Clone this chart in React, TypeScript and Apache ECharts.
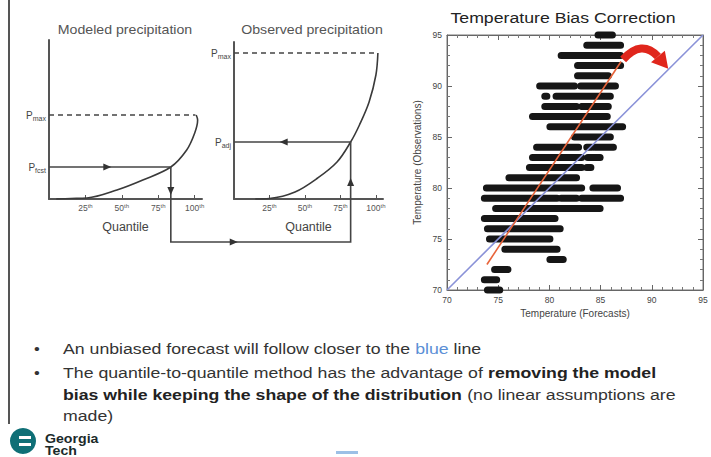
import React, { useEffect, useRef } from "react";
import * as echarts from "echarts";

// ---- Schematic quantile curves (quantile %, precipitation units) ----
const modeledQ = [5, 15, 26, 46.6, 64.4, 83.6, 94.5, 100, 102, 101];
const modeledP = [0, 0.5, 1, 9, 19, 32, 49, 66, 79, 84];
const observedQ = [15, 25, 43, 59, 72.6, 82.2, 88.4, 95.2, 100, 101.4];
const observedP = [0, 0.5, 7, 21, 37, 57, 74, 97, 124, 146];
const modeledMax = 84;
const observedMax = 146;
const fcstQ = 83.6;
const fcstP = 32;
const adjQ = 82.2;
const adjP = 57;
const quantileTicks = [25, 50, 75, 100];

// ---- Scatter streaks: observed temperature row, forecast range ----
const rowObs = [95, 94, 93, 92, 91, 90, 90, 89, 89, 88, 88, 87, 86, 85, 84, 84, 84, 83, 83, 82, 82, 81, 80, 80, 79, 79, 79, 78, 77, 76, 75, 74, 73, 72, 71, 70];
const rowFrom = [84.7, 83.6, 81.1, 82.7, 82.7, 79.0, 83.0, 79.5, 80.6, 79.5, 83.1, 78.3, 80.0, 82.4, 78.7, 83.6, 84.4, 78.3, 83.7, 78.0, 83.6, 76.0, 73.8, 84.2, 73.6, 81.1, 83.1, 74.7, 73.6, 73.9, 74.1, 75.6, 80.0, 74.6, 73.6, 73.9];
const rowTo = [86.2, 87.0, 87.0, 87.0, 85.8, 82.5, 86.5, 79.8, 86.0, 82.7, 85.8, 85.7, 87.2, 86.0, 82.9, 84.2, 86.3, 83.2, 85.0, 83.2, 84.1, 82.7, 83.2, 86.7, 80.8, 82.7, 87.0, 85.0, 80.6, 81.1, 80.1, 80.8, 81.4, 76.0, 74.9, 75.2];

const oneToOne = [[70, 70], [95, 95]];
const fitLine = [[73.9, 72.5], [87.0, 92.4]];
const biasArrow = [[87.2, 92.6], [89.0, 94.6], [90.6, 92.9], [91.6, 91.7]];

const FONT = "'Liberation Sans', Arial, sans-serif";
const INK = "#3a3a3a";
const STRETCH = 1.18;

export default function App() {
  const ref = useRef<HTMLDivElement>(null);
  useEffect(() => {
    const chart = echarts.init(ref.current!, null, { renderer: "svg" });

    const pLabel = (name: string) => `{p|P}{s|${name}}`;
    const pRich = {
      p: { fontSize: 10, color: "#444", lineHeight: 14, fontFamily: FONT },
      s: { fontSize: 7, color: "#444", verticalAlign: "bottom", fontFamily: FONT },
    };
    const diagXAxis = (gridIndex: number) => ({
      type: "value",
      gridIndex,
      min: 0,
      max: 105,
      interval: 25,
      name: "Quantile",
      nameLocation: "middle",
      nameGap: 21,
      nameTextStyle: { fontSize: 12.5, color: "#444", fontFamily: FONT },
      axisLine: { show: true, lineStyle: { color: "#555", width: 2 } },
      axisTick: { show: true, inside: true, length: 4, customValues: quantileTicks, lineStyle: { color: "#555" } },
      axisLabel: {
        show: true,
        customValues: quantileTicks,
        margin: 4,
        formatter: (v: number) => (quantileTicks.indexOf(v) >= 0 ? `{n|${v}}{t|th}` : ""),
        rich: {
          n: { fontSize: 8.5, color: "#555", fontFamily: FONT, lineHeight: 10 },
          t: { fontSize: 6, color: "#555", verticalAlign: "top", fontFamily: FONT },
        },
      },
      splitLine: { show: false },
    });
    const diagYAxis = (gridIndex: number, max: number) => ({
      type: "value",
      gridIndex,
      min: 0,
      max,
      axisLine: { show: true, lineStyle: { color: "#555", width: 2 } },
      axisTick: { show: false },
      axisLabel: { show: false },
      splitLine: { show: false },
    });
    const tempAxis = (pos: string, gridIndex: number, labels: boolean, name: string) => ({
      type: "value",
      gridIndex,
      position: pos,
      min: 70,
      max: 95,
      interval: 5,
      name: labels ? name : "",
      nameLocation: "middle",
      nameGap: pos === "left" ? 25 : 15,
      nameTextStyle: { fontSize: 10, color: "#444", fontFamily: FONT },
      axisLine: { show: true, onZero: false, lineStyle: { color: "#666", width: 1 } },
      axisTick: { show: true, inside: true, length: 5, lineStyle: { color: "#666" } },
      minorTick: { show: true, splitNumber: 5, length: 3, lineStyle: { color: "#777" } },
      axisLabel: { show: labels, fontSize: 8.5, color: "#444", margin: 5, fontFamily: FONT },
      splitLine: { show: false },
    });

    const segments = rowObs.map((y, i) => [rowFrom[i], rowTo[i], y]);

    const option: any = {
      animation: false,
      backgroundColor: "#fff",
      textStyle: { fontFamily: FONT },
      grid: [
        { left: 49, top: 40, width: 153, height: 159 },
        { left: 234, top: 42, width: 149, height: 157 },
        { left: 447, top: 35, width: 256, height: 255, show: true, borderColor: "#777", borderWidth: 1, backgroundColor: "transparent" },
      ],
      xAxis: [
        diagXAxis(0),
        diagXAxis(1),
        tempAxis("bottom", 2, true, "Temperature (Forecasts)"),
        tempAxis("top", 2, false, ""),
      ],
      yAxis: [
        diagYAxis(0, 159),
        diagYAxis(1, 157),
        tempAxis("left", 2, true, "Temperature (Observations)"),
        tempAxis("right", 2, false, ""),
      ],
      series: [
        {
          type: "line",
          xAxisIndex: 0,
          yAxisIndex: 0,
          data: modeledQ.map((q, i) => [q, modeledP[i]]),
          smooth: 0.35,
          symbol: "none",
          lineStyle: { color: INK, width: 1.6 },
          markLine: {
            silent: true,
            symbol: "none",
            animation: false,
            label: { position: "start", distance: 3, formatter: (p: any) => pLabel(p.name), rich: pRich },
            data: [
              [{ name: "max", coord: [0, modeledMax], lineStyle: { type: [5, 4], color: "#444", width: 1.6 } }, { coord: [100.5, modeledMax] }],
              [{ name: "fcst", coord: [0, fcstP], lineStyle: { type: "solid", color: "#444", width: 1.6 } }, { coord: [fcstQ, fcstP] }],
            ],
          },
        },
        {
          type: "line",
          xAxisIndex: 1,
          yAxisIndex: 1,
          data: observedQ.map((q, i) => [q, observedP[i]]),
          smooth: 0.35,
          symbol: "none",
          lineStyle: { color: INK, width: 1.6 },
          markLine: {
            silent: true,
            symbol: "none",
            animation: false,
            label: { position: "start", distance: 3, formatter: (p: any) => pLabel(p.name), rich: pRich },
            data: [
              [{ name: "max", coord: [0, observedMax], lineStyle: { type: [5, 4], color: "#444", width: 1.6 } }, { coord: [101.4, observedMax] }],
              [{ name: "adj", coord: [0, adjP], lineStyle: { type: "solid", color: "#444", width: 1.6 } }, { coord: [adjQ, adjP] }],
            ],
          },
        },
        {
          type: "custom",
          xAxisIndex: 2,
          yAxisIndex: 2,
          data: segments,
          encode: { x: [0, 1], y: 2 },
          renderItem: (params: any, api: any) => {
            const s = api.coord([api.value(0), api.value(2)]);
            const e = api.coord([api.value(1), api.value(2)]);
            const h = 7;
            return {
              type: "rect",
              shape: { x: s[0] - 3, y: s[1] - h / 2, width: Math.max(e[0] - s[0] + 6, 6), height: h, r: 3.5 },
              style: { fill: "#161616" },
            };
          },
          z: 2,
        },
        {
          type: "line",
          xAxisIndex: 2,
          yAxisIndex: 2,
          data: oneToOne,
          symbol: "none",
          lineStyle: { color: "#8a92d8", width: 1.6 },
          z: 3,
        },
        {
          type: "line",
          xAxisIndex: 2,
          yAxisIndex: 2,
          data: fitLine,
          symbol: "none",
          lineStyle: { color: "#e8643a", width: 1.6 },
          z: 4,
        },
      ],
    };
    chart.setOption(option);

    const px = (xi: number, yi: number, p: number[]) =>
      chart.convertToPixel({ xAxisIndex: xi, yAxisIndex: yi } as any, p) as number[];

    const tri = (c: number[], d: number[], color = "#333", len = 8, half = 3.5) => {
      const tip = [c[0] + (d[0] * len) / 2, c[1] + (d[1] * len) / 2];
      const base = [c[0] - (d[0] * len) / 2, c[1] - (d[1] * len) / 2];
      const n = [-d[1], d[0]];
      return {
        type: "polygon",
        shape: { points: [tip, [base[0] + n[0] * half, base[1] + n[1] * half], [base[0] - n[0] * half, base[1] - n[1] * half]] },
        style: { fill: color },
        z: 10,
      };
    };

    const fInt = px(0, 0, [fcstQ, fcstP]);
    const aInt = px(1, 1, [adjQ, adjP]);
    const modBase = px(0, 0, [fcstQ, 0]);
    const connY = modBase[1] + 43;
    const fArrow = px(0, 0, [40, fcstP]);
    const downArrow = px(0, 0, [fcstQ, 8]);
    const upArrow = px(1, 1, [adjQ, 17]);
    const leftArrow = px(1, 1, [35, adjP]);

    const a0 = px(2, 2, biasArrow[0]);
    const a1 = px(2, 2, biasArrow[1]);
    const a2 = px(2, 2, biasArrow[2]);
    const a3 = px(2, 2, biasArrow[3]);
    const dx = a3[0] - a2[0];
    const dy = a3[1] - a2[1];
    const dl = Math.hypot(dx, dy);
    const ux = dx / dl;
    const uy = dy / dl;
    const hw = 9;

    const lineStyle = { stroke: "#444", lineWidth: 1.6, fill: "none" };
    const txt = (x: number, y: number, style: any, align = "left") => ({
      type: "text",
      x,
      y,
      scaleX: STRETCH,
      style: { align, verticalAlign: "middle", ...style },
    });

    const bodyFont = `15px ${FONT}`;
    const boldFont = `bold 15px ${FONT}`;

    const graphic: any[] = [
      // slide border
      { type: "line", shape: { x1: 9, y1: 0, x2: 9, y2: 424 }, style: { stroke: "#555", lineWidth: 2 } },
      // titles
      txt(125, 30, { text: "Modeled precipitation", font: `12px ${FONT}`, fill: "#555" }, "center"),
      txt(312, 30, { text: "Observed precipitation", font: `12px ${FONT}`, fill: "#555" }, "center"),
      txt(563, 18, { text: "Temperature Bias Correction", font: `15px ${FONT}`, fill: "#222" }, "center"),
      // connector path
      { type: "polyline", shape: { points: [fInt, [fInt[0], connY], [aInt[0], connY], aInt] }, style: lineStyle, z: 9 },
      tri(fArrow, [1, 0]),
      tri(downArrow, [0, 1]),
      tri([fInt[0] + (aInt[0] - fInt[0]) * 0.35, connY], [1, 0]),
      tri(upArrow, [0, -1]),
      tri(leftArrow, [-1, 0]),
      // red bias arrow
      {
        type: "bezierCurve",
        shape: { x1: a0[0], y1: a0[1], cpx1: a1[0], cpy1: a1[1], x2: a2[0], y2: a2[1] },
        style: { stroke: "#e0261c", lineWidth: 8, fill: "none" },
        z: 20,
      },
      {
        type: "polygon",
        shape: { points: [a3, [a2[0] - uy * hw, a2[1] + ux * hw], [a2[0] + uy * hw, a2[1] - ux * hw]] },
        style: { fill: "#e0261c" },
        z: 20,
      },
      // bullets
      txt(34, 349, { text: "•", font: `14px ${FONT}`, fill: "#333" }),
      txt(63, 349, {
        text: "An unbiased forecast will follow closer to the {b|blue} line",
        font: bodyFont,
        fill: "#333",
        rich: { b: { fill: "#5b8fd6", font: bodyFont } },
      }),
      txt(34, 373, { text: "•", font: `14px ${FONT}`, fill: "#333" }),
      txt(63, 373, {
        text: "The quantile-to-quantile method has the advantage of {b|removing the model}",
        font: bodyFont,
        fill: "#333",
        rich: { b: { fill: "#222", font: boldFont } },
      }),
      txt(63, 395, {
        text: "{b|bias while keeping the shape of the distribution} (no linear assumptions are",
        font: bodyFont,
        fill: "#333",
        rich: { b: { fill: "#222", font: boldFont } },
      }),
      txt(63, 416, { text: "made)", font: bodyFont, fill: "#333" }),
      // Georgia Tech mark
      { type: "circle", shape: { cx: 23, cy: 441, r: 13 }, style: { fill: "#0f6f76" } },
      { type: "rect", shape: { x: 19, y: 436, width: 12, height: 3 }, style: { fill: "#fff" } },
      { type: "rect", shape: { x: 19, y: 443, width: 12, height: 3 }, style: { fill: "#fff" } },
      txt(45, 439, { text: "Georgia", font: `bold 12px ${FONT}`, fill: "#1b2a2a" }),
      txt(45, 451, { text: "Tech", font: `bold 12px ${FONT}`, fill: "#1b2a2a" }),
      { type: "rect", shape: { x: 336, y: 451, width: 22, height: 3 }, style: { fill: "#9cc0e6" } },
    ];
    chart.setOption({ graphic });

    return () => chart.dispose();
  }, []);
  return <div ref={ref} style={{ position: "fixed", left: 0, top: 0, width: 711, height: 457, background: "#fff" }} />;
}
